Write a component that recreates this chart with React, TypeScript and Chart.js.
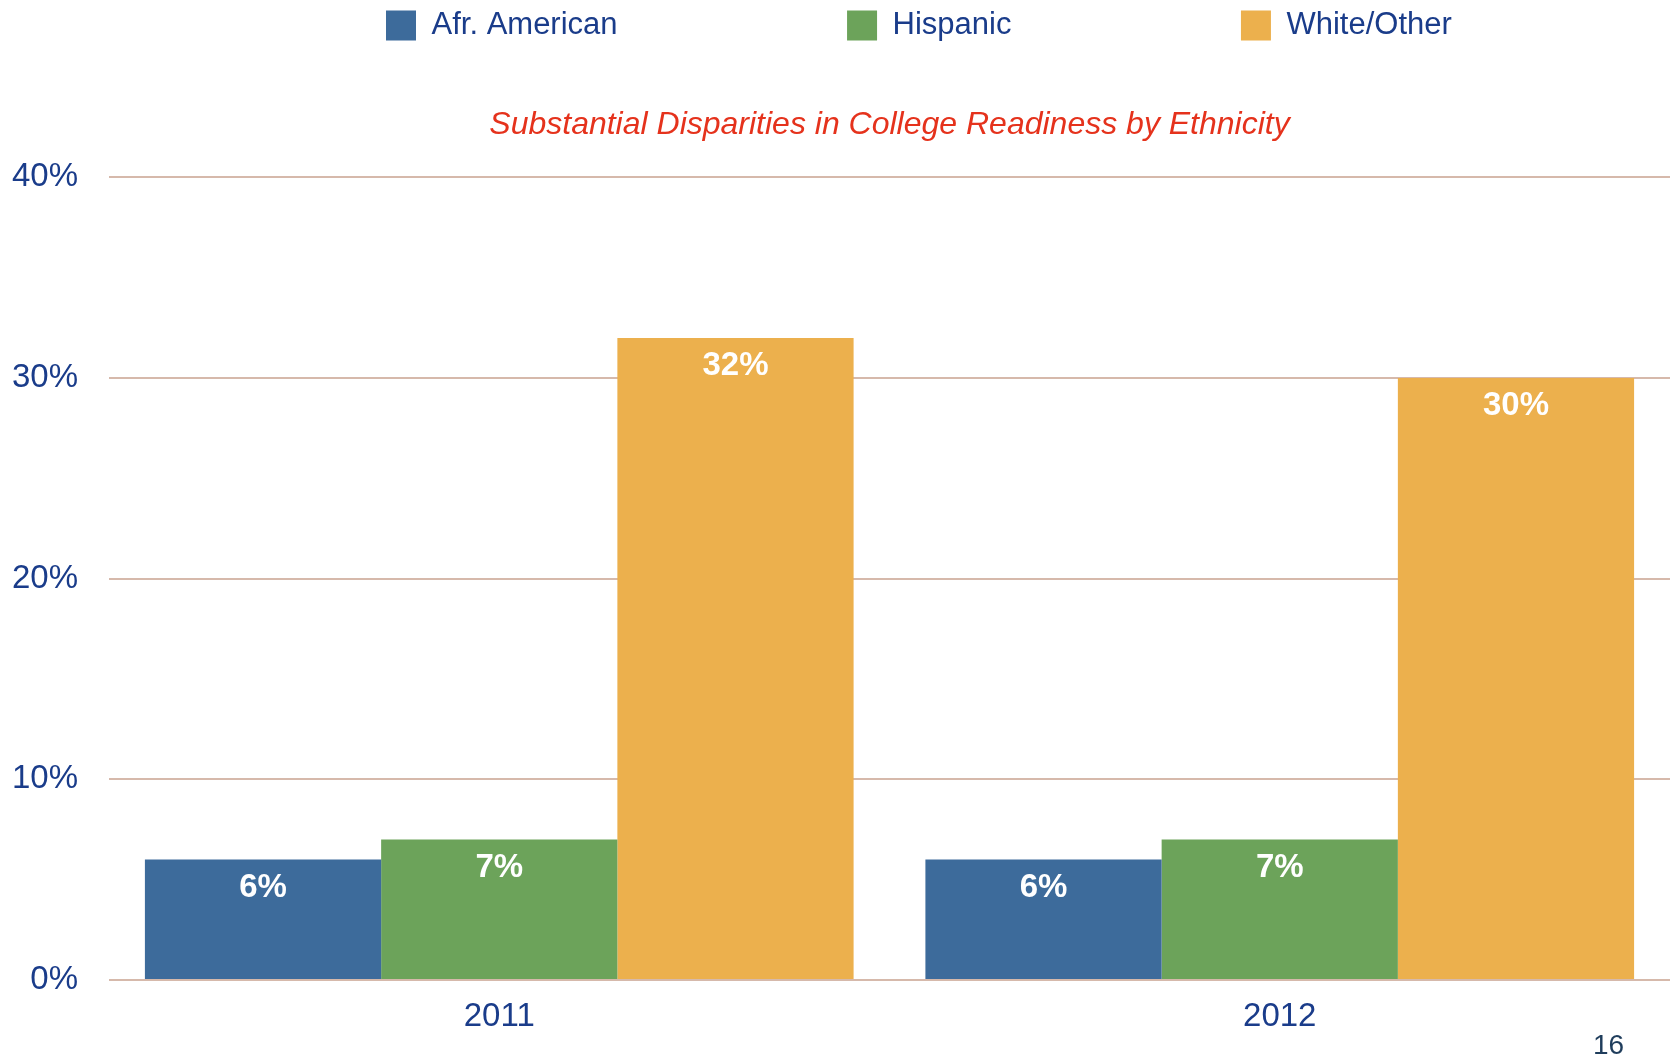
import React, { useEffect, useRef } from "react";
import { Chart, registerables } from "chart.js";

Chart.register(...registerables);

const categories = ["2011", "2012"];
const seriesNames = ["Afr. American", "Hispanic", "White/Other"];
const afrAmerican = [6, 6];
const hispanic = [7, 7];
const whiteOther = [32, 30];
const seriesColors = ["#3d6b9b", "#6ca35a", "#ecb04d"];
const yTicks = [0, 10, 20, 30, 40];
const chartTitle = "Substantial Disparities in College Readiness by Ethnicity";
const pageNumber = "16";

const FONT = '"Liberation Sans", Arial, Helvetica, sans-serif';
const NAVY = "#1a3c8a";

const legendShift = {
  id: "legendShift",
  afterLayout(chart: any) {
    const lg = chart.legend;
    if (!lg) return;
    const pad = lg.options.labels.padding;
    const left = 386 - pad;
    const top = 10 - pad;
    lg.left = left;
    lg.right = left + 1600;
    lg.top = top;
    lg.bottom = 62;
  },
};

const valueLabels = {
  id: "valueLabels",
  afterDatasetsDraw(chart: any) {
    const ctx = chart.ctx;
    ctx.save();
    ctx.fillStyle = "#ffffff";
    ctx.font = `bold 33px ${FONT}`;
    ctx.textAlign = "center";
    ctx.textBaseline = "middle";
    chart.data.datasets.forEach((ds: any, i: number) => {
      const meta = chart.getDatasetMeta(i);
      meta.data.forEach((bar: any, j: number) => {
        ctx.fillText(`${ds.data[j]}%`, bar.x, bar.y + 28);
      });
    });
    ctx.restore();
  },
};

export default function App() {
  const ref = useRef<HTMLCanvasElement | null>(null);

  useEffect(() => {
    if (!ref.current) return;
    const seriesData = [afrAmerican, hispanic, whiteOther];
    const chart = new Chart(ref.current, {
      type: "bar",
      data: {
        labels: categories,
        datasets: seriesNames.map((name, i) => ({
          label: name,
          data: seriesData[i],
          backgroundColor: seriesColors[i],
          borderWidth: 0,
          categoryPercentage: 0.908,
          barPercentage: 1.0,
        })),
      },
      options: {
        animation: false,
        responsive: false,
        maintainAspectRatio: false,
        layout: { padding: { left: 12, right: 1, top: 0, bottom: 20 } },
        plugins: {
          legend: {
            position: "top",
            align: "start",
            maxHeight: 60,
            labels: {
              boxWidth: 30,
              boxHeight: 30,
              padding: 229.5,
              color: NAVY,
              font: { family: FONT, size: 31 },
            },
          },
          title: {
            display: true,
            text: chartTitle,
            fullSize: false,
            weight: 500,
            color: "#e5321c",
            font: { family: FONT, size: 32, style: "italic", weight: "normal" },
            padding: { top: 46, bottom: 33 },
          },
          tooltip: { enabled: false },
        },
        scales: {
          x: {
            grid: { display: false },
            border: { display: false },
            afterFit: (axis: any) => {
              axis.height = 57;
            },
            ticks: {
              color: NAVY,
              padding: 9,
              font: { family: FONT, size: 33 },
            },
          },
          y: {
            min: 0,
            max: 40,
            afterBuildTicks: (axis: any) => {
              axis.ticks = yTicks.map((v) => ({ value: v }));
            },
            afterFit: (axis: any) => {
              axis.width = 97;
            },
            grid: { color: "#d6b9ab", lineWidth: 2, drawTicks: false },
            border: { display: false },
            ticks: {
              color: NAVY,
              padding: 31,
              font: { family: FONT, size: 33 },
              callback: (v: any) => `${v}%`,
            },
          },
        },
      },
      plugins: [legendShift, valueLabels],
    } as any);
    return () => chart.destroy();
  }, []);

  return (
    <div style={{ position: "absolute", left: 0, top: 0, width: 1671, height: 1057, background: "#fff" }}>
      <canvas ref={ref} width={1671} height={1057} style={{ display: "block" }} />
      <div
        style={{
          position: "absolute",
          left: 1593,
          top: 1029,
          fontFamily: FONT,
          fontSize: 28,
          lineHeight: "32px",
          color: "#1f3d5c",
        }}
      >
        {pageNumber}
      </div>
    </div>
  );
}
